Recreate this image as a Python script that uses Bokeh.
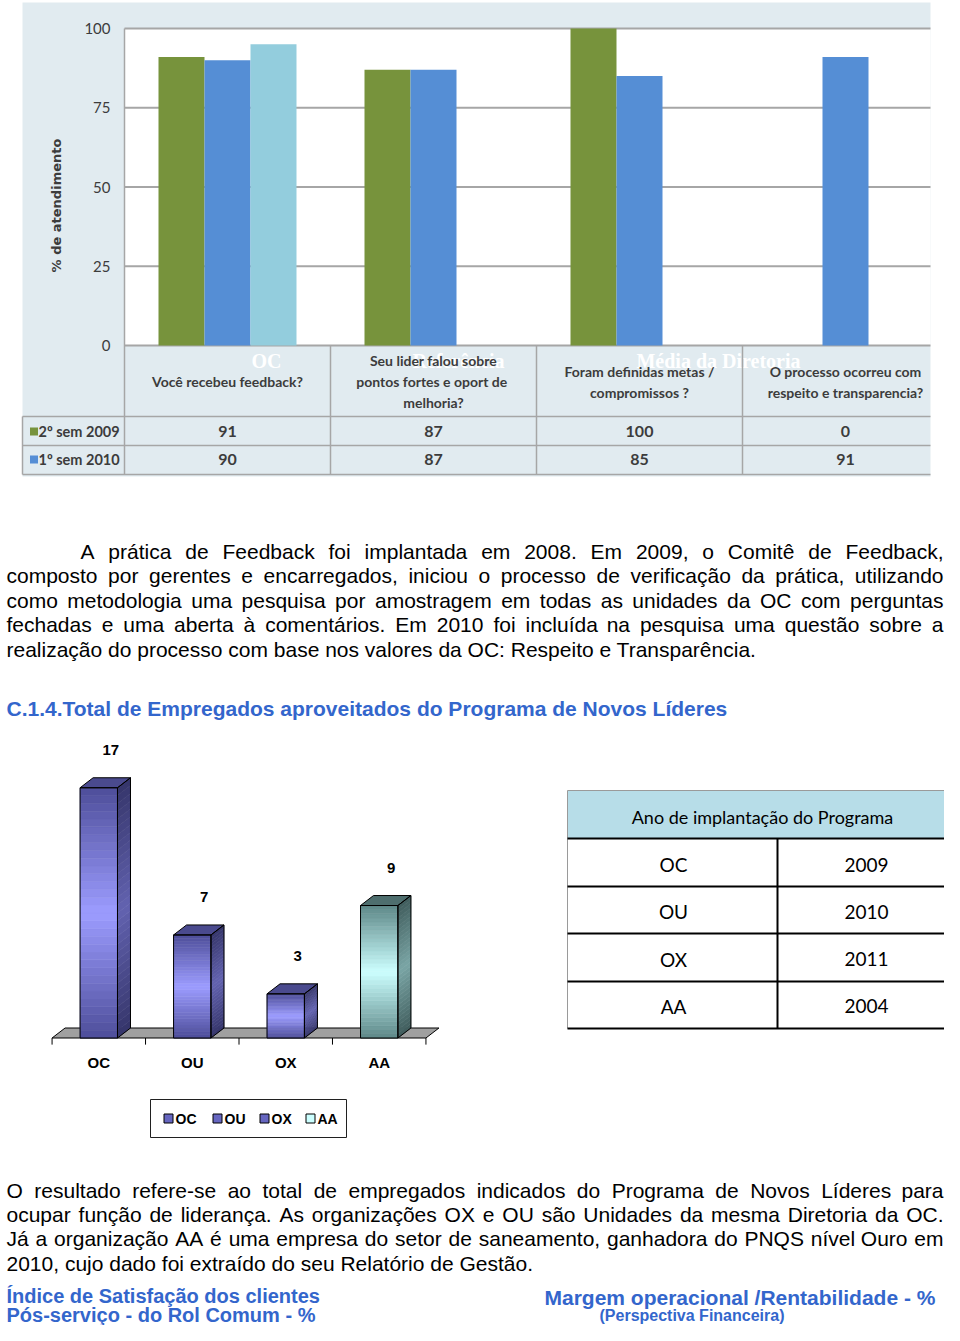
import math
import unicodedata
from bokeh.plotting import figure
from bokeh.models import Range1d
from bokeh.core.properties import value
from bokeh.embed import file_html
from bokeh.resources import INLINE

# ---------------- data ----------------
questions = ["Você recebeu feedback?",
             "Seu lider falou sobre\npontos fortes  e oport de\nmelhoria?",
             "Foram definidas metas /\ncompromissos ?",
             "O processo ocorreu com\nrespeito e transparencia?"]
series_labels = ["2º sem 2009", "1º sem 2010"]
sem2_2009 = [91, 87, 100, 0]
sem1_2010 = [90, 87, 85, 91]
ref_oc = [95, float("nan"), float("nan"), float("nan")]
pct_ticks = [0, 25, 50, 75, 100]
pct_title = "% de atendimento"
ghost_labels = ["OC", "Referência", "Média da Diretoria"]

orgs = ["OC", "OU", "OX", "AA"]
empregados = [17, 7, 3, 9]
anos_implantacao = ["2009", "2010", "2011", "2004"]
table_title = "Ano de implantação do Programa"

para1 = ["A prática de Feedback foi implantada em 2008. Em 2009, o Comitê de Feedback,",
         "composto por gerentes e encarregados, iniciou o processo de verificação da prática, utilizando",
         "como metodologia uma pesquisa por amostragem em todas as unidades da OC com perguntas",
         "fechadas e uma aberta à comentários. Em 2010 foi incluída na pesquisa uma questão sobre a",
         "realização do processo com base nos valores da OC: Respeito e Transparência."]
heading = "C.1.4.Total de Empregados aproveitados do Programa de Novos Líderes"
para2 = ["O resultado refere-se ao total de empregados indicados do Programa de Novos Líderes para",
         "ocupar função de liderança. As organizações OX e OU são Unidades da mesma Diretoria da OC.",
         "Já a organização AA é uma empresa do setor de saneamento, ganhadora do PNQS nível Ouro em",
         "2010, cujo dado foi extraído do seu Relatório de Gestão."]
footer_left = ["Índice de Satisfação dos clientes", "Pós-serviço - do Rol Comum  - %"]
footer_right = ["Margem operacional /Rentabilidade - %", "(Perspectiva Financeira)"]

# ---------------- styles ----------------
GREEN, BLUE, LIGHT = "#77933C", "#558ED5", "#93CDDD"
GRID = "#A6A6A6"
DARKTXT = "#3C3C3C"
HEAD_BLUE = "#3366CC"
SANS = value("Liberation Sans")
NARROW = value("Lato")
SERIF = value("Liberation Serif")
DEJAVU = value("DejaVu Sans")
PERI = dict(light="#9C9CFF", dark="#4E4E9A", slight="#6262B0", sdark="#35356A", top="#4A4A8E", leg="#6666C0")
AQUA = dict(light="#CCFFFF", dark="#5E8888", slight="#7AA5A5", sdark="#3F5C5C", top="#4E6E6E", leg="#CCFFFF")
bar_styles = [PERI, PERI, PERI, AQUA]

# ---------------- figure (one canvas in page-like coordinates) ----------------
W, H = 944, 1325
X0, Y0 = 0, 0
p = figure(width=W, height=H, x_range=Range1d(X0, X0 + W), y_range=Range1d(Y0 + H, Y0),
           output_backend="svg", toolbar_location=None, min_border=0,
           x_axis_location=None, y_axis_location=None)
p.grid.visible = False
p.outline_line_color = None
p.background_fill_color = "white"
p.border_fill_color = "white"


def lin_range(v0, c0, v1, c1, lo, hi):
    k = (v1 - v0) / (c1 - c0)
    return Range1d(start=v0 + (lo - c0) * k, end=v0 + (hi - c0) * k)


p.extra_x_ranges = {
    "q": lin_range(0, 227, 1, 433, X0, X0 + W),
    "o": lin_range(0, 98.3, 1, 191.77, X0, X0 + W),
}
p.extra_y_ranges = {
    "pct": lin_range(0, 345, 100, 28, Y0 + H, Y0),
    "cnt": lin_range(0, 1037.5, 1, 1037.5 - 14.72, Y0 + H, Y0),
}

# ======== top chart ========
p.quad(left=22, right=930, top=2, bottom=476, fill_color="#E1EBF0", line_color=None)
p.quad(left=124, right=930, bottom=0, top=100, y_range_name="pct", fill_color="white", line_color=None)
p.text(x=[266, 458, 718], y=[360] * 3, text=ghost_labels, text_font=SERIF, text_font_style="bold",
       text_font_size="20px", text_color="white", text_align="center", text_baseline="alphabetic")
p.segment(x0=124, x1=930, y0=pct_ticks, y1=pct_ticks, y_range_name="pct", line_color=GRID, line_width=2)
p.text(x=110, y=pct_ticks, text=[str(t) for t in pct_ticks], y_range_name="pct", text_font=NARROW,
       text_font_size="15px", text_color=DARKTXT, text_align="right", text_baseline="middle")
p.text(x=[56], y=[205], text=[pct_title], angle=math.pi / 2, text_font=DEJAVU, text_font_style="bold",
       text_font_size="13px", text_color=DARKTXT, text_align="center", text_baseline="middle")

bw = 46 / 206
idx = list(range(len(questions)))
p.vbar(x=[i - bw for i in idx], top=sem2_2009, bottom=0, width=bw, x_range_name="q", y_range_name="pct",
       fill_color=GREEN, line_color=None)
p.vbar(x=idx, top=sem1_2010, bottom=0, width=bw, x_range_name="q", y_range_name="pct",
       fill_color=BLUE, line_color=None)
p.vbar(x=[i + bw for i in idx], top=ref_oc, bottom=0, width=bw, x_range_name="q", y_range_name="pct",
       fill_color=LIGHT, line_color=None)

# data table under the chart
p.segment(x0=22, x1=930, y0=[416, 445, 474], y1=[416, 445, 474], line_color=GRID, line_width=1.5)
p.segment(x0=[22], x1=[22], y0=[416], y1=[474], line_color=GRID, line_width=1.5)
p.segment(x0=[124], x1=[124], y0=[28], y1=[474], line_color=GRID, line_width=1.5)
p.segment(x0=[i + 0.5 for i in idx[:-1]], x1=[i + 0.5 for i in idx[:-1]], y0=345, y1=474,
          x_range_name="q", line_color=GRID, line_width=1.5)
for i, q in enumerate(questions):
    lines = q.split("\n")
    n = len(lines)
    ys = [381 + (j - (n - 1) / 2) * 21 for j in range(n)]
    p.text(x=[i] * n, y=ys, text=lines, x_range_name="q", text_font=NARROW, text_font_style="bold",
           text_font_size="14px", text_color=DARKTXT, text_align="center", text_baseline="middle")
for row_y, vals, col, lab in [(431, sem2_2009, GREEN, series_labels[0]), (459, sem1_2010, BLUE, series_labels[1])]:
    p.text(x=idx, y=[row_y] * len(idx), text=[str(v) for v in vals], x_range_name="q", text_font=NARROW,
           text_font_style="bold", text_font_size="16px", text_color=DARKTXT, text_align="center",
           text_baseline="middle")
    p.rect(x=[33.5], y=[row_y], width=8, height=8, fill_color=col, line_color=None)
    p.text(x=[38], y=[row_y], text=[lab], text_font=NARROW, text_font_style="bold", text_font_size="14.5px",
           text_color=DARKTXT, text_align="left", text_baseline="middle")

# ======== paragraphs ========
REG_U = dict(zip("ABCDEFGHIJKLMNOPQRSTUVWXYZ",
                 [667, 667, 722, 722, 667, 611, 778, 722, 278, 500, 667, 556, 833, 722, 778, 667, 778, 722, 667, 611,
                  722, 667, 944, 667, 667, 611]))
REG_L = dict(zip("abcdefghijklmnopqrstuvwxyz",
                 [556, 556, 500, 556, 556, 278, 556, 556, 222, 222, 500, 222, 833, 556, 556, 556, 556, 333, 500, 278,
                  556, 500, 722, 500, 500, 500]))
REG = {**REG_U, **REG_L, " ": 278, ",": 278, ".": 278, ":": 278, "-": 333, "/": 278, "%": 889, "(": 333,
       ")": 333}
for d in "0123456789":
    REG[d] = 556


def char_w(ch):
    if ch in REG:
        return REG[ch]
    base = unicodedata.normalize("NFD", ch)[0]
    return REG.get(base, 556)


def word_w(w, size):
    return sum(char_w(c) for c in w) * size / 1000.0


def paragraph(lines, first_baseline, leading, indent, left, right, size):
    for k, line in enumerate(lines):
        y = first_baseline + k * leading
        x0 = left + (indent if k == 0 else 0)
        common = dict(text_font=SANS, text_font_size=f"{size}px", text_color="black",
                      text_align="left", text_baseline="alphabetic")
        if k == len(lines) - 1:
            p.text(x=[x0], y=[y], text=[line], **common)
        else:
            words = line.split()
            widths = [word_w(w, size) for w in words]
            gap = (right - x0 - sum(widths)) / (len(words) - 1)
            xs, cur = [], x0
            for wv in widths:
                xs.append(cur)
                cur += wv + gap
            p.text(x=xs, y=[y] * len(words), text=words, **common)


paragraph(para1, 551, 24.4, 74, 6, 943, 21)
p.text(x=[6], y=[708], text=[heading], text_font=SANS, text_font_style="bold", text_font_size="21px",
       text_color=HEAD_BLUE, text_align="left", text_baseline="alphabetic")
paragraph(para2, 1190, 24.2, 0, 6, 943, 21)

p.text(x=[6, 6], y=[1295, 1314], text=footer_left, text_font=SANS, text_font_style="bold",
       text_font_size="20px", text_color=HEAD_BLUE, text_align="left", text_baseline="alphabetic")
p.text(x=[544], y=[1297], text=[footer_right[0]], text_font=SANS, text_font_style="bold",
       text_font_size="21px", text_color=HEAD_BLUE, text_align="left", text_baseline="alphabetic")
p.text(x=[599], y=[1315], text=[footer_right[1]], text_font=SANS, text_font_style="bold",
       text_font_size="16px", text_color=HEAD_BLUE, text_align="left", text_baseline="alphabetic")

# ======== 3D column chart ========
bw3 = 0.40
dxu = 13 / 93.47
dyu = 10 / 14.72
oidx = list(range(len(orgs)))


def hex2rgb(h):
    h = h.lstrip("#")
    return [int(h[i:i + 2], 16) for i in (0, 2, 4)]


def mix(a, b, f):
    ra, rb = hex2rgb(a), hex2rgb(b)
    return "#%02x%02x%02x" % tuple(int(round(x + (y - x) * f)) for x, y in zip(ra, rb))


# floor + axis
p.patch(x=[-0.5, 3.5, 3.5 + dxu, -0.5 + dxu], y=[0, 0, dyu, dyu], x_range_name="o", y_range_name="cnt",
        fill_color="#A0A0A0", line_color="black", line_width=1)
tick_x = [i - 0.5 for i in range(len(orgs) + 1)]
p.segment(x0=tick_x, x1=tick_x, y0=0, y1=-0.45, x_range_name="o", y_range_name="cnt",
          line_color="black", line_width=1)

NSTRIP = 32
fl, fr, fb, ft, fc = [], [], [], [], []
sxs, sys_, sc = [], [], []
txs, tys, tc = [], [], []
oxs, oys = [], []
for i, v in enumerate(empregados):
    st = bar_styles[i]
    xl, xr = i - bw3 / 2, i + bw3 / 2
    for k in range(NSTRIP):
        y0, y1 = v * k / NSTRIP, v * (k + 1) / NSTRIP
        t = (k + 0.5) / NSTRIP
        f = 1 - abs(t - 0.5) * 2
        fl.append(xl); fr.append(xr); fb.append(y0); ft.append(y1)
        fc.append(mix(st["dark"], st["light"], f))
        sxs.append([xr, xr + dxu, xr + dxu, xr])
        sys_.append([y0, y0 + dyu, y1 + dyu, y1])
        sc.append(mix(st["sdark"], st["slight"], f))
    txs.append([xl, xr, xr + dxu, xl + dxu])
    tys.append([v, v, v + dyu, v + dyu])
    tc.append(st["top"])
    oxs.append([xr, xr + dxu, xr + dxu, xr])
    oys.append([0, dyu, v + dyu, v])

p.quad(left=fl, right=fr, bottom=fb, top=ft, fill_color=fc, line_color=fc, line_width=0.6,
       x_range_name="o", y_range_name="cnt")
p.patches(xs=sxs, ys=sys_, fill_color=sc, line_color=sc, line_width=0.6, x_range_name="o", y_range_name="cnt")
p.patches(xs=txs, ys=tys, fill_color=tc, line_color="black", line_width=1, x_range_name="o", y_range_name="cnt")
p.patches(xs=oxs, ys=oys, fill_alpha=0, line_color="black", line_width=1, x_range_name="o", y_range_name="cnt")
p.quad(left=[i - bw3 / 2 for i in oidx], right=[i + bw3 / 2 for i in oidx], bottom=0, top=empregados,
       fill_alpha=0, line_color="black", line_width=1, x_range_name="o", y_range_name="cnt")

p.text(x=oidx, y=empregados, text=[str(v) for v in empregados], x_offset=12, y_offset=-38,
       x_range_name="o", y_range_name="cnt", text_font=SANS, text_font_style="bold", text_font_size="15px",
       text_color="black", text_align="center", text_baseline="middle")
p.text(x=oidx, y=[0] * len(orgs), text=orgs, y_offset=24, x_range_name="o", y_range_name="cnt",
       text_font=SANS, text_font_style="bold", text_font_size="15px", text_color="black",
       text_align="center", text_baseline="middle")

# legend box
p.quad(left=[150], right=[346], top=[1099], bottom=[1137], fill_color="white", line_color="#202020",
       line_width=1)
leg_x = [168, 217, 264, 310]
p.rect(x=leg_x, y=[1118] * 4, width=9, height=9, fill_color=[s["leg"] for s in bar_styles],
       line_color="black", line_width=1)
p.text(x=[x + 7 for x in leg_x], y=[1118] * 4, text=orgs, text_font=SANS, text_font_style="bold",
       text_font_size="14px", text_color="black", text_align="left", text_baseline="middle")

# ======== right table ========
p.quad(left=[567], right=[957], top=[790], bottom=[838], fill_color="#B7DDE8", line_color=None)
p.segment(x0=[567, 567], x1=[957, 567], y0=[790, 790], y1=[790, 1028], line_color="#9A9A9A", line_width=1)
row_lines = [838, 886, 933, 981, 1028]
p.segment(x0=567, x1=957, y0=row_lines, y1=row_lines, line_color="black", line_width=2)
p.segment(x0=[777], x1=[777], y0=[838], y1=[1028], line_color="black", line_width=2)
p.text(x=[762], y=[816], text=[table_title], text_font=NARROW, text_font_size="18px", text_color="black",
       text_align="center", text_baseline="middle")
row_y = [864 + 47.3 * i for i in range(len(orgs))]
p.text(x=[673] * len(orgs), y=row_y, text=orgs, text_font=NARROW, text_font_size="19px",
       text_color="black", text_align="center", text_baseline="middle")
p.text(x=[866] * len(orgs), y=row_y, text=anos_implantacao, text_font=NARROW, text_font_size="19px",
       text_color="black", text_align="center", text_baseline="middle")

open("out.html", "w").write(file_html(p, INLINE, "Feedback"))
